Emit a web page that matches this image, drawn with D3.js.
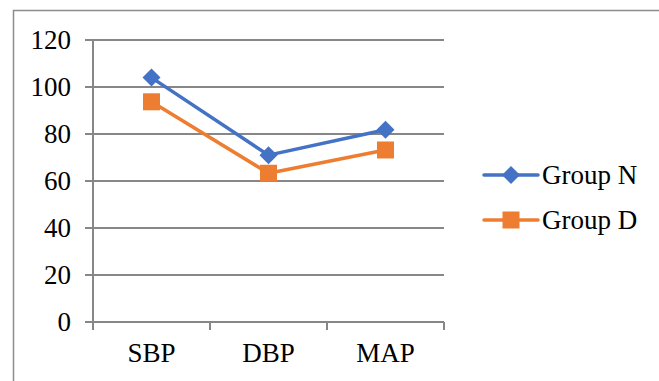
<!DOCTYPE html>
<html><head><meta charset="utf-8">
<script src="https://cdn.jsdelivr.net/npm/d3@7"></script>
<style>body{margin:0;background:#fff}svg{display:block}text{font-family:"Liberation Serif","Times New Roman",Times,serif}</style>
</head><body>
<svg id="c" width="659" height="381"></svg>
<script>
const categories = ["SBP", "DBP", "MAP"];
const groupN = [104, 71, 81.8];
const groupD = [93.7, 63.3, 73.2];
const yTicks = [0, 20, 40, 60, 80, 100, 120];
const seriesNames = ["Group N", "Group D"];
const colors = ["#4472C4", "#ED7D31"];

const svg = d3.select("#c");
const grid = "#878787";
const fs = 27;

// outer border (left and top only visible)
svg.append("path").attr("d", "M13.5,381 V10.5 H659").attr("fill", "none")
  .attr("stroke", "#8c8c8c").attr("stroke-width", 1.5);

const x0 = 93, x1 = 444, y0 = 322, y1 = 40;
const x = d3.scaleBand().domain(categories).range([x0, x1]).paddingInner(0).paddingOuter(0);
const y = d3.scaleLinear().domain([0, 120]).range([y0, y1]);

// gridlines
svg.append("g").selectAll("line").data(yTicks).join("line")
  .attr("x1", 85).attr("x2", x1).attr("y1", d => y(d)).attr("y2", d => y(d))
  .attr("stroke", grid).attr("stroke-width", 2);

// y axis line
svg.append("line").attr("x1", x0).attr("x2", x0).attr("y1", y1 - 1).attr("y2", y0 + 8)
  .attr("stroke", grid).attr("stroke-width", 2);

// x ticks
const xt = categories.map(c => x(c)).concat([x1]);
svg.append("g").selectAll("line").data(xt).join("line")
  .attr("x1", d => d).attr("x2", d => d).attr("y1", y0).attr("y2", y0 + 8)
  .attr("stroke", grid).attr("stroke-width", 2);

// y labels
svg.append("g").selectAll("text").data(yTicks).join("text")
  .attr("x", 71).attr("y", d => y(d)).attr("dy", "0.33em")
  .attr("text-anchor", "end").attr("font-size", fs)
  .attr("fill", "#000").text(d => d);

// x labels
svg.append("g").selectAll("text").data(categories).join("text")
  .attr("x", d => x(d) + x.bandwidth() / 2).attr("y", 362)
  .attr("text-anchor", "middle").attr("font-size", fs)
  .attr("fill", "#000").text(d => d);

const series = [groupN, groupD];
const line = d3.line().x((d, i) => x(categories[i]) + x.bandwidth() / 2).y(d => y(d));

function marker(g, k, cx, cy) {
  if (k === 0) {
    g.append("path").attr("d", `M${cx},${cy - 9}L${cx + 9},${cy}L${cx},${cy + 9}L${cx - 9},${cy}Z`)
      .attr("fill", colors[0]);
  } else {
    g.append("rect").attr("x", cx - 8.5).attr("y", cy - 8.5).attr("width", 17).attr("height", 17)
      .attr("fill", colors[1]);
  }
}

series.forEach((s, k) => {
  const g = svg.append("g");
  g.append("path").attr("d", line(s)).attr("fill", "none")
    .attr("stroke", colors[k]).attr("stroke-width", 3.5).attr("stroke-linejoin", "round");
  s.forEach((v, i) => marker(g, k, x(categories[i]) + x.bandwidth() / 2, y(v)));
});

// legend
const legY = [175, 220];
seriesNames.forEach((n, k) => {
  const g = svg.append("g");
  g.append("line").attr("x1", 484).attr("x2", 538).attr("y1", legY[k]).attr("y2", legY[k])
    .attr("stroke", colors[k]).attr("stroke-width", 3.5).attr("stroke-linecap", "round");
  marker(g, k, 511, legY[k]);
  g.append("text").attr("x", 542).attr("y", legY[k]).attr("dy", "0.33em")
    .attr("font-size", fs).attr("fill", "#000").text(n);
});
</script>
</body></html>
